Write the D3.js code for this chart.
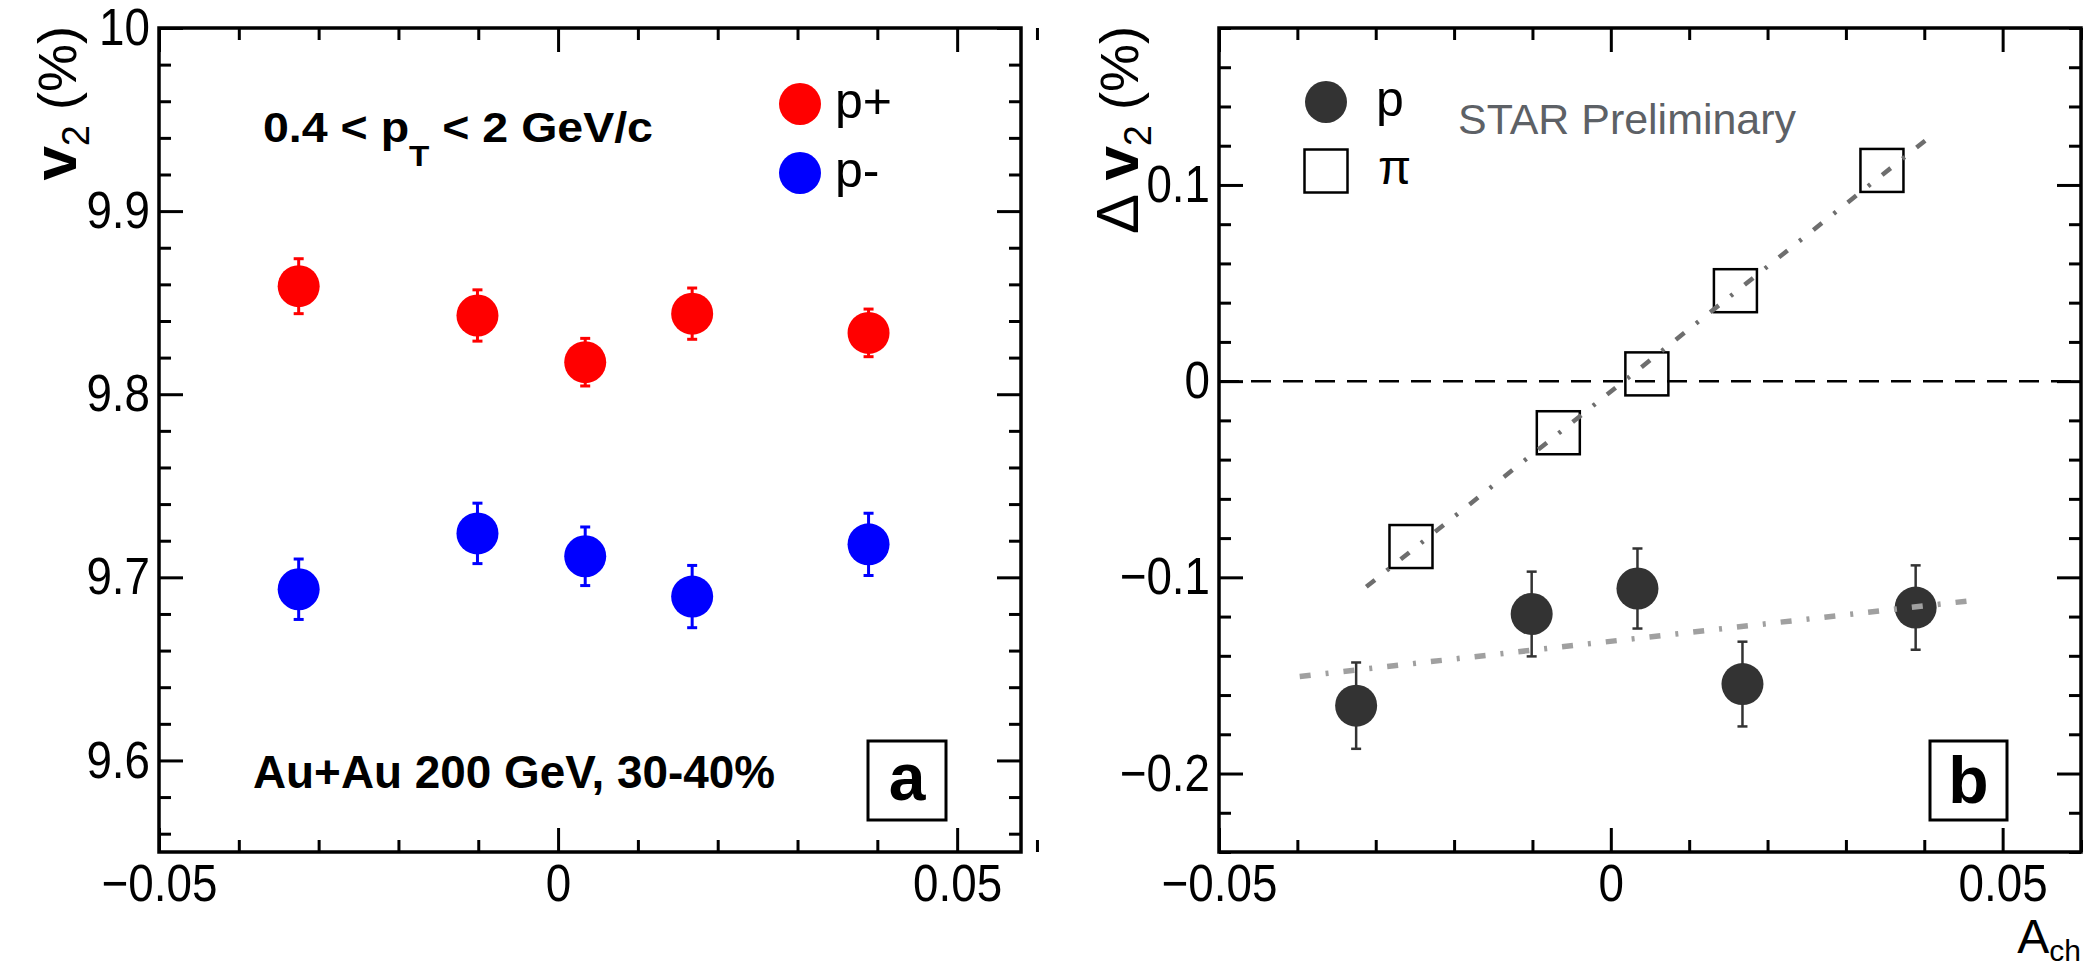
<!DOCTYPE html>
<html>
<head>
<meta charset="utf-8">
<script src="https://cdn.jsdelivr.net/npm/d3@7"></script>
<style>
  body { margin: 0; background: #fff; }
  svg { display: block; }
  text { font-family: "Liberation Sans", Arial, Helvetica, sans-serif; }
</style>
</head>
<body>
<svg id="chart" width="2084" height="968"></svg>
<script>
// A_ch bin centres (both panels, p+/p- and protons)
var achBins = [-0.0325, -0.0101, 0.0034, 0.0168, 0.0389];

// panel a: v2 (%) of p+ and p-
var v2Plus     = [9.859, 9.843, 9.8175, 9.844, 9.8335];
var v2PlusErr  = [0.015, 0.014, 0.013, 0.014, 0.013];
var v2Minus    = [9.6935, 9.724, 9.7115, 9.6895, 9.718];
var v2MinusErr = [0.0165, 0.0165, 0.016, 0.017, 0.017];

// panel b: delta v2 (%) of protons and pions
var protonDv2 = [-0.1654, -0.1187, -0.1057, -0.1544, -0.1154];
var protonErr = [0.022, 0.0216, 0.0204, 0.0216, 0.0215];
var pionAch   = [-0.0255, -0.0067, 0.0046, 0.0159, 0.0346];
var pionDv2   = [-0.0843, -0.0263, 0.0037, 0.0461, 0.1074];

// linear fits, end points [A_ch, dv2]
var pionFit   = [[-0.0312, -0.1048], [0.0404, 0.1235]];
var protonFit = [[-0.0397, -0.1505], [0.0457, -0.1120]];

// axes
var xTicks   = [-0.05, 0, 0.05];
var v2Ticks  = [9.6, 9.7, 9.8, 9.9, 10];
var dv2Ticks = [-0.2, -0.1, 0, 0.1];

var svg = d3.select("#chart");
var fmt = function(d) { return d3.format("~g")(d); };

// squeeze glyphs a bit, the original font is narrower than Liberation Sans
function narrow(sel, k) {
    sel.each(function() {
        var l = this.getComputedTextLength();
        d3.select(this).attr("textLength", l * k).attr("lengthAdjust", "spacingAndGlyphs");
    });
}

function frame(g, x, y, xMinor, yMinor, yMajor) {
    var r = x.range(), t = y.range();
    var x0 = r[0], x1 = r[1], y0 = t[1], y1 = t[0];

    function clean(sel) {
        sel.select(".domain").remove();
        sel.selectAll("line").attr("stroke", "#000").attr("stroke-width", 3);
        sel.attr("font-size", 52).attr("font-family", null).selectAll("text").attr("fill", "#000").call(narrow, 0.88);
    }
    // bottom
    g.append("g").attr("transform", "translate(0," + y1 + ")")
        .call(d3.axisBottom(x).tickValues(xTicks).tickSize(-24).tickPadding(12).tickFormat(fmt)).call(clean);
    g.append("g").attr("transform", "translate(0," + y1 + ")")
        .call(d3.axisBottom(x).tickValues(xMinor).tickSize(-12).tickFormat("")).call(clean);
    // top
    g.append("g").attr("transform", "translate(0," + y0 + ")")
        .call(d3.axisTop(x).tickValues(xTicks).tickSize(-24).tickFormat("")).call(clean);
    g.append("g").attr("transform", "translate(0," + y0 + ")")
        .call(d3.axisTop(x).tickValues(xMinor).tickSize(-12).tickFormat("")).call(clean);
    // left
    g.append("g").attr("transform", "translate(" + x0 + ",0)")
        .call(d3.axisLeft(y).tickValues(yMajor).tickSize(-24).tickPadding(9).tickFormat(fmt)).call(clean);
    g.append("g").attr("transform", "translate(" + x0 + ",0)")
        .call(d3.axisLeft(y).tickValues(yMinor).tickSize(-12).tickFormat("")).call(clean);
    // right
    g.append("g").attr("transform", "translate(" + x1 + ",0)")
        .call(d3.axisRight(y).tickValues(yMajor).tickSize(-24).tickFormat("")).call(clean);
    g.append("g").attr("transform", "translate(" + x1 + ",0)")
        .call(d3.axisRight(y).tickValues(yMinor).tickSize(-12).tickFormat("")).call(clean);

    g.append("rect").attr("x", x0).attr("y", y0).attr("width", x1 - x0).attr("height", y1 - y0)
        .attr("fill", "none").attr("stroke", "#000").attr("stroke-width", 3.5);
}

function errorBars(g, xs, ys, errs, x, y, color, w) {
    var d = xs.map(function(v, i) { return {x: v, y: ys[i], e: errs[i]}; });
    var bars = g.append("g").attr("stroke", color).attr("stroke-width", w);
    bars.selectAll("line.v").data(d).enter().append("line").attr("class", "v")
        .attr("x1", function(p) { return x(p.x); }).attr("x2", function(p) { return x(p.x); })
        .attr("y1", function(p) { return y(p.y - p.e); }).attr("y2", function(p) { return y(p.y + p.e); });
    [-1, 1].forEach(function(s) {
        bars.selectAll("line.c" + s).data(d).enter().append("line")
            .attr("x1", function(p) { return x(p.x) - 5; }).attr("x2", function(p) { return x(p.x) + 5; })
            .attr("y1", function(p) { return y(p.y + s * p.e); }).attr("y2", function(p) { return y(p.y + s * p.e); });
    });
    g.append("g").selectAll("circle").data(d).enter().append("circle")
        .attr("cx", function(p) { return x(p.x); }).attr("cy", function(p) { return y(p.y); })
        .attr("r", 21).attr("fill", color);
}

function minorTicks(lo, hi, step, majors) {
    return d3.range(Math.round(lo / step), Math.round(hi / step) + 1)
        .map(function(i) { return +(i * step).toFixed(4); })
        .filter(function(v) { return majors.every(function(m) { return Math.abs(m - v) > 1e-6; }); });
}

// ---------------- panel a ----------------
var xa = d3.scaleLinear().domain([-0.05, 0.058]).range([159, 1021]);
var ya = d3.scaleLinear().domain([9.55, 10]).range([852, 28]);
var ga = svg.append("g");

frame(ga, xa, ya, minorTicks(-0.05, 0.058, 0.01, xTicks), minorTicks(9.56, 9.98, 0.02, v2Ticks), v2Ticks);
errorBars(ga, achBins, v2Plus, v2PlusErr, xa, ya, "#ff0000", 3);
errorBars(ga, achBins, v2Minus, v2MinusErr, xa, ya, "#0000ff", 3);

// y title
var ta = ga.append("text").attr("transform", "translate(76,26) rotate(-90)")
    .attr("text-anchor", "end").attr("font-size", 54);
ta.append("tspan").attr("font-weight", "bold").attr("font-size", 62).text("v");
ta.append("tspan").attr("font-size", 38).attr("dy", 13).text("2");
ta.append("tspan").attr("dy", -13).text("  (%)");

// legend
[["#ff0000", "p+", 104], ["#0000ff", "p-", 173]].forEach(function(l) {
    ga.append("circle").attr("cx", 800).attr("cy", l[2]).attr("r", 21).attr("fill", l[0]);
    ga.append("text").attr("x", 835).attr("y", l[2] + 14).attr("font-size", 50).text(l[1]);
});

var pt = ga.append("text").attr("x", 263).attr("y", 142).attr("font-size", 42).attr("font-weight", "bold")
    .attr("textLength", 390).attr("lengthAdjust", "spacingAndGlyphs");
pt.append("tspan").text("0.4 < p");
pt.append("tspan").attr("font-size", 30).attr("dy", 24).text("T");
pt.append("tspan").attr("dy", -24).text(" < 2 GeV/c");

ga.append("text").attr("x", 253).attr("y", 788).attr("font-size", 46).attr("font-weight", "bold")
    .attr("textLength", 522).attr("lengthAdjust", "spacingAndGlyphs").text("Au+Au 200 GeV, 30-40%");

ga.append("rect").attr("x", 868).attr("y", 741).attr("width", 78).attr("height", 79)
    .attr("fill", "#fff").attr("stroke", "#000").attr("stroke-width", 3);
ga.append("text").attr("x", 907).attr("y", 800).attr("text-anchor", "middle")
    .attr("font-size", 66).attr("font-weight", "bold").text("a");

// ---------------- panel b ----------------
var xb = d3.scaleLinear().domain([-0.05, 0.06]).range([1219, 2081]);
var yb = d3.scaleLinear().domain([-0.24, 0.18]).range([852, 28]);
var gb = svg.append("g");

frame(gb, xb, yb, minorTicks(-0.05, 0.06, 0.01, xTicks), minorTicks(-0.24, 0.18, 0.02, dv2Ticks), dv2Ticks);

gb.append("line").attr("x1", xb(-0.05)).attr("x2", xb(0.06)).attr("y1", yb(0)).attr("y2", yb(0))
    .attr("stroke", "#000").attr("stroke-width", 2.5).attr("stroke-dasharray", "20,12");

gb.append("g").selectAll("rect").data(pionAch).enter().append("rect")
    .attr("x", function(d) { return xb(d) - 21.5; })
    .attr("y", function(d, i) { return yb(pionDv2[i]) - 21.5; })
    .attr("width", 43).attr("height", 43)
    .attr("fill", "none").attr("stroke", "#000").attr("stroke-width", 2.5);

errorBars(gb, achBins, protonDv2, protonErr, xb, yb, "#333333", 2.5);

var fitLine = d3.line().x(function(d) { return xb(d[0]); }).y(function(d) { return yb(d[1]); });
gb.append("path").attr("d", fitLine(protonFit)).attr("fill", "none")
    .attr("stroke", "#a0a0a0").attr("stroke-width", 5.5).attr("stroke-dasharray", "11,15,3,15");
gb.append("path").attr("d", fitLine(pionFit)).attr("fill", "none")
    .attr("stroke", "#6e6e6e").attr("stroke-width", 4.5).attr("stroke-dasharray", "11,15,3,15");

var tb = gb.append("text").attr("transform", "translate(1138,26) rotate(-90)")
    .attr("text-anchor", "end").attr("font-size", 54);
tb.append("tspan").attr("font-size", 60).text("\u0394 ");
tb.append("tspan").attr("font-weight", "bold").attr("font-size", 62).text("v");
tb.append("tspan").attr("font-size", 38).attr("dy", 13).text("2");
tb.append("tspan").attr("dy", -13).text("  (%)");

// legend
gb.append("circle").attr("cx", 1326).attr("cy", 102).attr("r", 21).attr("fill", "#333333");
gb.append("text").attr("x", 1376).attr("y", 116).attr("font-size", 50).text("p");
gb.append("rect").attr("x", 1304.5).attr("y", 149.5).attr("width", 43).attr("height", 43)
    .attr("fill", "none").attr("stroke", "#000").attr("stroke-width", 2.5);
gb.append("text").attr("x", 1378).attr("y", 184).attr("font-size", 48)
    .attr("font-family", "'DejaVu Serif', 'Liberation Serif', serif").text("\u03c0");

gb.append("text").attr("x", 1458).attr("y", 134).attr("font-size", 42).attr("fill", "#5d6166")
    .attr("textLength", 338).attr("lengthAdjust", "spacingAndGlyphs").text("STAR Preliminary");

gb.append("rect").attr("x", 1930).attr("y", 741).attr("width", 77).attr("height", 79)
    .attr("fill", "#fff").attr("stroke", "#000").attr("stroke-width", 3);
gb.append("text").attr("x", 1968.5).attr("y", 803).attr("text-anchor", "middle")
    .attr("font-size", 66).attr("font-weight", "bold").text("b");

var ach = gb.append("text").attr("x", 2081).attr("y", 953).attr("font-size", 48).attr("text-anchor", "end");
ach.append("tspan").text("A");
ach.append("tspan").attr("font-size", 30).attr("dy", 8).text("ch");
</script>
</body>
</html>
